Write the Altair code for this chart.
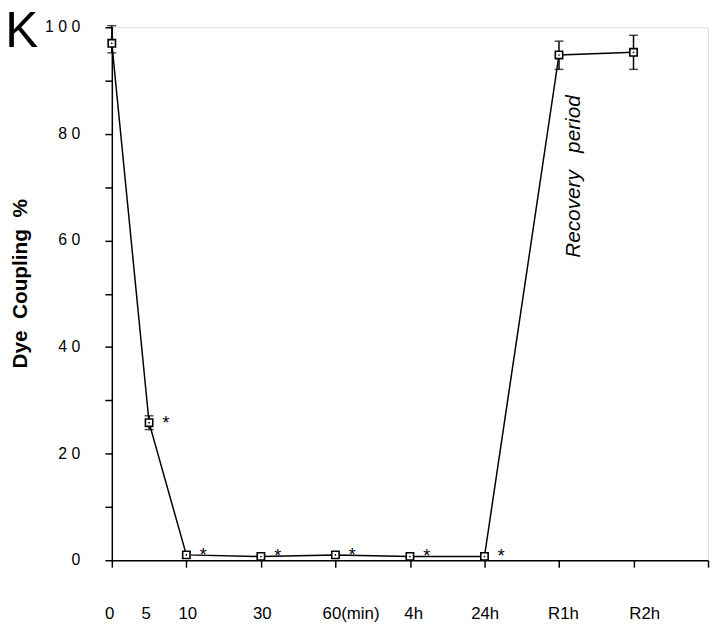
import altair as alt
import pandas as pd

# ---- data ----
time_labels = ["0", "5", "10", "30", "60(min)", "4h", "24h", "R1h", "R2h"]
time_pos = [0, 0.5, 1, 2, 3, 4, 5, 6, 7]
coupling = [97.0, 25.8, 1.0, 0.7, 1.0, 0.7, 0.7, 94.8, 95.3]
significant = [False, True, True, True, True, True, True, False, False]
label_pos = [-0.03, 0.46, 1.02, 2.02, 3.21, 4.05, 5.01, 6.06, 7.15]

err_pos = [0, 0.5, 6, 7]
err_low = [95.2, 24.5, 92.1, 92.1]
err_high = [100.3, 27.1, 97.4, 98.5]

y_tick_values = [0, 20, 40, 60, 80, 100]
y_tick_labels = ["0", "2\u00a00", "4\u00a00", "6\u00a00", "8\u00a00", "1\u00a00\u00a00"]

note_text = ["Recovery\u00a0\u00a0\u00a0period"]
note_pos = [6.2]
note_val = [72]

FONT = "Liberation Sans"

df = pd.DataFrame({"pos": time_pos, "val": coupling, "sig": significant, "lab": time_labels})
df_err = pd.DataFrame({"pos": err_pos, "lo": err_low, "hi": err_high})
df_lab = pd.DataFrame({"pos": label_pos, "lab": time_labels})
df_ylab = pd.DataFrame({"val": y_tick_values, "lab": y_tick_labels})
df_note = pd.DataFrame({"pos": note_pos, "val": note_val, "txt": note_text})

xscale = alt.Scale(domain=[0, 8], nice=False, zero=False)
yscale = alt.Scale(domain=[0, 100], nice=False)

x_axis = alt.Axis(values=list(range(0, 9)), labels=False, title=None, grid=False,
                  tickSize=7, tickWidth=1.5, domainWidth=1.5,
                  domainColor="black", tickColor="black")
y_axis = alt.Axis(values=list(range(0, 101, 10)), labels=False,
                  tickSize=7, tickWidth=1.5, domainWidth=1.5,
                  domainColor="black", tickColor="black", grid=False,
                  title="Dye\u00a0\u00a0Coupling\u00a0\u00a0%", titleFont=FONT, titleFontSize=21,
                  titleFontWeight="bold", titleColor="black", titleX=-92, titleY=259,
                  titleAngle=270, titleAlign="center", titleBaseline="middle")

base = alt.Chart(df)

line = base.mark_line(color="black", strokeWidth=1.5).encode(
    x=alt.X("pos:Q", scale=xscale, axis=x_axis),
    y=alt.Y("val:Q", scale=yscale, axis=y_axis),
)

err_rule = alt.Chart(df_err).mark_rule(color="black", strokeWidth=1.5).encode(
    x=alt.X("pos:Q", scale=xscale), y=alt.Y("lo:Q", scale=yscale), y2="hi:Q")
cap_lo = alt.Chart(df_err).mark_tick(color="black", orient="horizontal", size=9, thickness=1.5).encode(
    x=alt.X("pos:Q", scale=xscale), y=alt.Y("lo:Q", scale=yscale))
cap_hi = alt.Chart(df_err).mark_tick(color="black", orient="horizontal", size=9, thickness=1.5).encode(
    x=alt.X("pos:Q", scale=xscale), y=alt.Y("hi:Q", scale=yscale))

squares = base.mark_square(fill="white", stroke="black", strokeWidth=1.6, size=55, opacity=1).encode(
    x=alt.X("pos:Q", scale=xscale), y=alt.Y("val:Q", scale=yscale))
dots = base.mark_circle(color="black", size=3, opacity=1).encode(
    x=alt.X("pos:Q", scale=xscale), y=alt.Y("val:Q", scale=yscale))

stars = base.transform_filter("datum.sig").mark_text(
    text="*", dx=17, dy=1, fontSize=18, font=FONT, color="black").encode(
    x=alt.X("pos:Q", scale=xscale), y=alt.Y("val:Q", scale=yscale))

xlabels = alt.Chart(df_lab).mark_text(fontSize=17, font=FONT, color="black",
                                       align="center", baseline="alphabetic").encode(
    x=alt.X("pos:Q", scale=xscale), y=alt.value(598), text="lab:N")

ylabels = alt.Chart(df_ylab).mark_text(fontSize=16, font=FONT, color="black",
                                        align="right", baseline="middle").encode(
    x=alt.value(-32), y=alt.Y("val:Q", scale=yscale), text="lab:N")

note = alt.Chart(df_note).mark_text(fontSize=21, font=FONT, fontStyle="italic", angle=270,
                                    color="black", align="center", baseline="middle").encode(
    x=alt.X("pos:Q", scale=xscale), y=alt.Y("val:Q", scale=yscale), text="txt:N")

panel_letter = alt.Chart(pd.DataFrame({"t": ["K"]})).mark_text(
    fontSize=50, font=FONT, color="black", align="center", baseline="alphabetic").encode(
    x=alt.value(-91), y=alt.value(20), text="t:N")

chart = alt.layer(line, err_rule, cap_lo, cap_hi, squares, dots, stars, xlabels, ylabels,
                  note, panel_letter).properties(
    width=603, height=539,
    autosize=alt.AutoSizeParams(type="none"),
    padding={"left": 105, "top": 16, "right": 4, "bottom": 60},
).configure_view(stroke=None).configure(background="white")

chart.save("out.html", embed_options={"renderer": "svg", "actions": False})
